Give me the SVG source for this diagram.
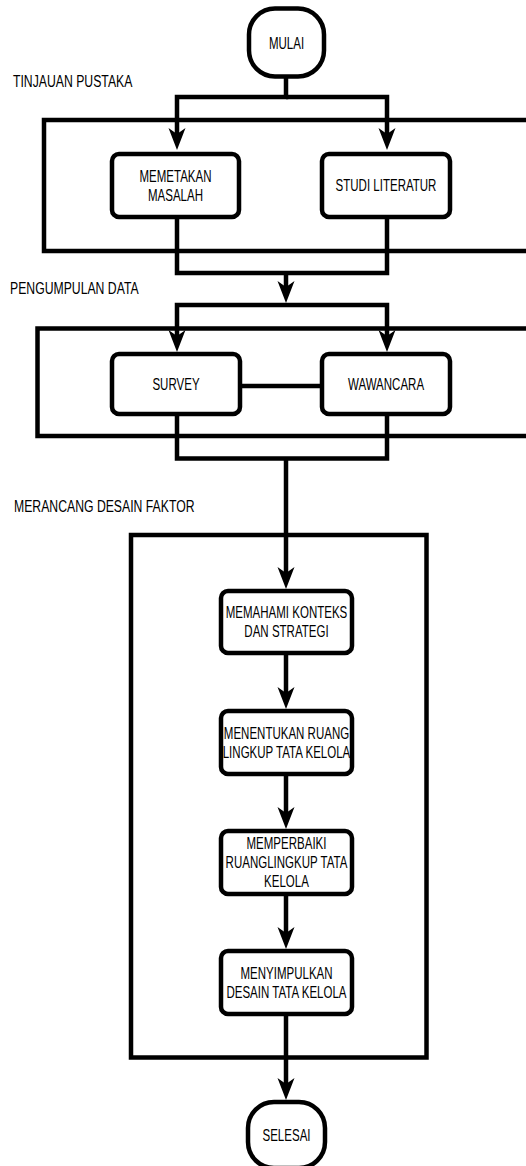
<svg xmlns="http://www.w3.org/2000/svg" width="526" height="1166" viewBox="0 0 526 1166">
  <style>
    .frame { fill: none; stroke: #000; stroke-width: 4.5; }
    .node { fill: #fff; stroke: #000; stroke-width: 4.5; }
    .wire { fill: none; stroke: #000; stroke-width: 4.5; stroke-linejoin: miter; }
    .arrow { marker-end: url(#head); }
    .t { font-family: "Liberation Sans", Arial, Helvetica, sans-serif; font-size: 16px; fill: #000; text-anchor: middle; }
    .sec { font-family: "Liberation Sans", Arial, Helvetica, sans-serif; font-size: 17px; fill: #000; }
  </style>
  <defs>
    <!-- classic notched arrowhead; reference point is the notch, tip lies 16px ahead -->
    <marker id="head" markerUnits="userSpaceOnUse" viewBox="-8 -10 28 20" markerWidth="28" markerHeight="20" refX="0" refY="0" orient="auto" overflow="visible">
      <path d="M16,0 L-6,-8.5 L0,0 L-6,8.5 Z" fill="#000"/>
    </marker>
  </defs>

  <rect width="526" height="1166" fill="#fff"/>

  <!-- stage frames and their titles -->
  <g id="stage-tinjauan">
    <rect class="frame" x="44" y="120" width="500" height="131"/>
    <text class="sec" transform="translate(13,87) scale(0.72,1)">TINJAUAN PUSTAKA</text>
  </g>
  <g id="stage-pengumpulan">
    <rect class="frame" x="37.5" y="328.5" width="510" height="107.5"/>
    <text class="sec" transform="translate(10,294) scale(0.72,1)">PENGUMPULAN DATA</text>
  </g>
  <g id="stage-merancang">
    <rect class="frame" x="131" y="535" width="295.5" height="522.5"/>
    <text class="sec" transform="translate(14,512) scale(0.72,1)">MERANCANG DESAIN FAKTOR</text>
  </g>

  <!-- connectors -->
  <g id="connectors">
    <path class="wire arrow" d="M286,77 V97 H177 V134"/>
    <path class="wire arrow" d="M286,97 H387 V134"/>
    <path class="wire" d="M177,217 V273 H387 V217"/>
    <path class="wire arrow" d="M286,273 V287"/>
    <path class="wire arrow" d="M286,305 H177 V336"/>
    <path class="wire arrow" d="M286,305 H387 V336"/>
    <path class="wire" d="M240,386 H322"/>
    <path class="wire" d="M177,414 V458.5 H387 V414"/>
    <path class="wire arrow" d="M286,458.5 V573"/>
    <path class="wire arrow" d="M286,653 V693"/>
    <path class="wire arrow" d="M286,774 V813"/>
    <path class="wire arrow" d="M286,894 V933"/>
    <path class="wire arrow" d="M286,1014 V1084"/>
  </g>

  <!-- nodes -->
  <g id="mulai">
    <rect class="node" x="249" y="8.5" width="75" height="68" rx="26" ry="26"/>
    <text class="t" transform="translate(286.5,49) scale(0.72,1)">MULAI</text>
  </g>
  <g id="memetakan-masalah">
    <rect class="node" x="112" y="154" width="127" height="63" rx="7"/>
    <text class="t" transform="translate(175.5,182) scale(0.72,1)"><tspan x="0" y="0">MEMETAKAN</tspan><tspan x="0" y="19">MASALAH</tspan></text>
  </g>
  <g id="studi-literatur">
    <rect class="node" x="322" y="154" width="128" height="63" rx="7"/>
    <text class="t" transform="translate(386,191) scale(0.72,1)">STUDI LITERATUR</text>
  </g>
  <g id="survey">
    <rect class="node" x="112" y="354" width="128" height="60" rx="7"/>
    <text class="t" transform="translate(176,390) scale(0.72,1)">SURVEY</text>
  </g>
  <g id="wawancara">
    <rect class="node" x="322" y="354" width="128" height="60" rx="7"/>
    <text class="t" transform="translate(386,390) scale(0.72,1)">WAWANCARA</text>
  </g>
  <g id="memahami-konteks">
    <rect class="node" x="221" y="591" width="131" height="62" rx="7"/>
    <text class="t" transform="translate(286.5,618) scale(0.72,1)"><tspan x="0" y="0">MEMAHAMI KONTEKS</tspan><tspan x="0" y="19">DAN STRATEGI</tspan></text>
  </g>
  <g id="menentukan-ruang">
    <rect class="node" x="221" y="711" width="131" height="63" rx="7"/>
    <text class="t" transform="translate(286.5,739) scale(0.72,1)"><tspan x="0" y="0">MENENTUKAN RUANG</tspan><tspan x="0" y="19">LINGKUP TATA KELOLA</tspan></text>
  </g>
  <g id="memperbaiki-ruang">
    <rect class="node" x="221" y="831" width="131" height="63" rx="7"/>
    <text class="t" transform="translate(286.5,849) scale(0.72,1)"><tspan x="0" y="0">MEMPERBAIKI</tspan><tspan x="0" y="19">RUANGLINGKUP TATA</tspan><tspan x="0" y="38">KELOLA</tspan></text>
  </g>
  <g id="menyimpulkan-desain">
    <rect class="node" x="221" y="951" width="131" height="63" rx="7"/>
    <text class="t" transform="translate(286.5,979) scale(0.72,1)"><tspan x="0" y="0">MENYIMPULKAN</tspan><tspan x="0" y="19">DESAIN TATA KELOLA</tspan></text>
  </g>
  <g id="selesai">
    <rect class="node" x="248" y="1102" width="77" height="66" rx="26" ry="26"/>
    <text class="t" transform="translate(286.5,1141) scale(0.72,1)">SELESAI</text>
  </g>
</svg>
